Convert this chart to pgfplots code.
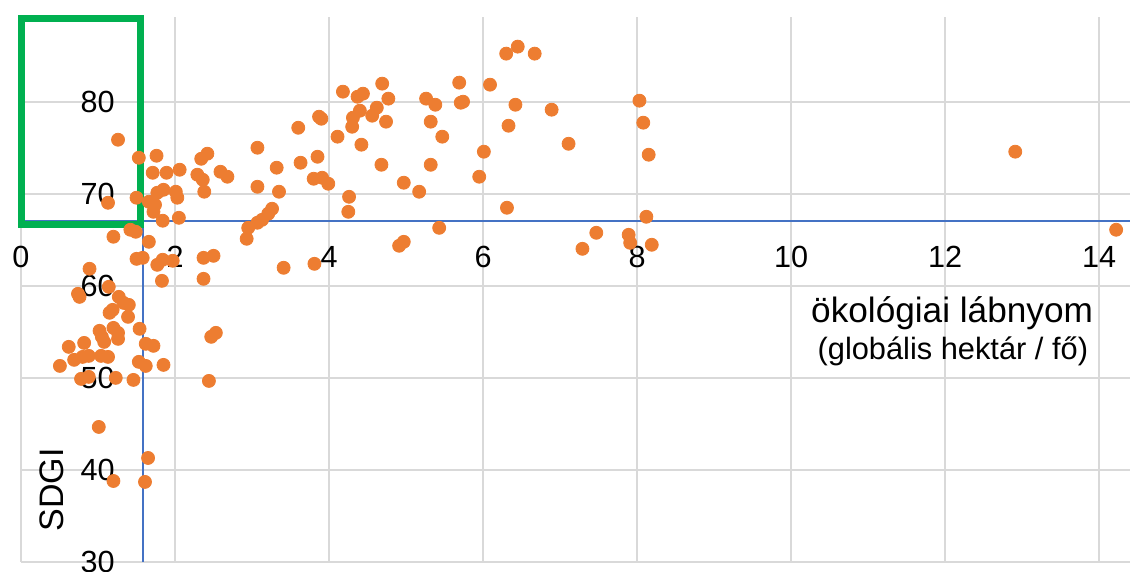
\documentclass[border=0pt]{standalone}
\usepackage{fontspec}
\setmainfont{Liberation Sans}
\usepackage{pgfplots}
\pgfplotsset{compat=1.18}
\definecolor{dotor}{HTML}{ED7D31}
\definecolor{axblue}{HTML}{4472C4}
\definecolor{grn}{HTML}{00B050}
\definecolor{gridg}{HTML}{D9D9D9}
\begin{document}
\begin{tikzpicture}
\begin{axis}[
  name=ax,
  scale only axis, width=554.5pt, height=272.5pt,
  xmin=0, xmax=14.4, ymin=30, ymax=89.2,
  axis line style={draw=none},
  xtick={0,2,...,14}, ytick={30,40,...,80},
  tick style={draw=none},
  grid=major, major grid style={gridg, line width=1pt},
  clip=false,
  /pgf/number format/assume math mode=true,
  xticklabel style={font=\fontsize{15.3}{18}\selectfont, anchor=center, yshift=152.5pt},
  yticklabel style={font=\fontsize{15.3}{18}\selectfont, anchor=east, inner sep=0pt, xshift=47pt},
]
\draw[axblue, line width=1pt] (axis cs:0,67.0) -- (axis cs:14.4,67.0);
\draw[axblue, line width=1pt] (axis cs:1.59,30) -- (axis cs:1.59,89.2);
\addplot[only marks, mark=*, mark size=3.25pt, mark options={fill=dotor, draw=dotor}] table {
x y
1.26 75.87
1.53 73.91
1.76 74.13
1.71 72.28
1.89 72.28
2.06 72.61
2.34 73.80
2.42 74.35
2.29 72.07
2.36 71.52
2.38 70.22
2.59 72.39
2.68 71.85
3.07 75.00
3.07 70.76
3.32 72.83
3.35 70.22
3.60 77.17
3.87 78.37
3.90 78.15
3.63 73.37
3.85 74.02
3.80 71.63
3.91 71.74
3.99 71.09
4.18 81.09
4.37 80.54
4.44 80.87
4.40 79.02
4.31 78.26
4.30 77.28
4.56 78.48
4.62 79.35
4.11 76.20
4.42 75.33
4.69 81.96
4.77 80.33
4.74 77.83
4.26 69.67
4.25 68.04
4.68 73.15
4.97 71.20
5.17 70.22
5.26 80.33
5.38 79.67
5.32 77.83
5.47 76.20
5.32 73.15
5.69 82.07
5.71 79.89
5.74 80.00
6.09 81.85
5.95 71.85
6.01 74.57
6.30 85.22
6.45 85.98
6.67 85.22
6.42 79.67
6.33 77.39
6.89 79.13
7.11 75.43
8.03 80.11
8.08 77.72
8.15 74.24
12.91 74.57
6.31 68.48
5.43 66.30
4.91 64.35
4.97 64.78
3.81 62.39
3.41 61.96
7.29 64.02
7.47 65.76
7.89 65.54
7.91 64.67
8.12 67.50
8.19 64.46
14.22 66.09
1.13 69.02
1.50 69.57
1.66 69.13
1.74 68.80
1.77 70.11
1.85 70.43
2.01 70.22
2.03 69.57
1.72 68.04
1.84 67.07
2.05 67.39
1.20 65.33
1.42 66.09
1.49 65.87
1.66 64.78
2.93 65.11
2.95 66.30
3.07 66.85
3.13 67.17
3.21 67.83
3.26 68.37
1.50 62.93
1.58 63.04
1.77 62.28
1.84 62.83
1.97 62.72
1.83 60.54
2.37 63.04
2.50 63.26
2.37 60.76
0.89 61.85
0.74 59.13
0.76 58.80
1.14 59.89
1.27 58.80
1.40 57.93
1.33 58.15
1.19 57.39
1.15 57.07
1.39 56.63
1.02 55.11
1.05 54.46
1.08 53.91
1.20 55.43
1.26 54.89
1.26 54.24
1.54 55.33
0.82 53.80
0.62 53.37
0.69 51.96
0.80 52.28
0.88 52.39
1.04 52.39
1.13 52.28
0.505 51.30
1.62 53.70
1.72 53.48
1.53 51.74
1.62 51.30
1.85 51.41
2.47 54.46
2.53 54.89
0.78 49.89
0.88 50.11
1.23 50.00
1.46 49.78
2.44 49.67
1.01 44.67
1.65 41.30
1.20 38.80
1.61 38.70
};
\draw[grn, line width=3.5pt] (axis cs:0,66.69) rectangle (axis cs:1.55,89.02);
\node[font=\fontsize{17.6}{20}\selectfont] at (axis cs:12.09,57.07) {ökológiai lábnyom};
\node[font=\fontsize{15.4}{18}\selectfont] at (axis cs:12.10,52.83) {(globális hektár / fő)};
\node[rotate=90, font=\fontsize{17}{20}\selectfont] at (axis cs:0.40,37.83) {SDGI};
\end{axis}
\pgfresetboundingbox
\useasboundingbox ([xshift=-10.5pt,yshift=-5pt]ax.south west) rectangle ([yshift=8.5pt]ax.north east);
\end{tikzpicture}
\end{document}
